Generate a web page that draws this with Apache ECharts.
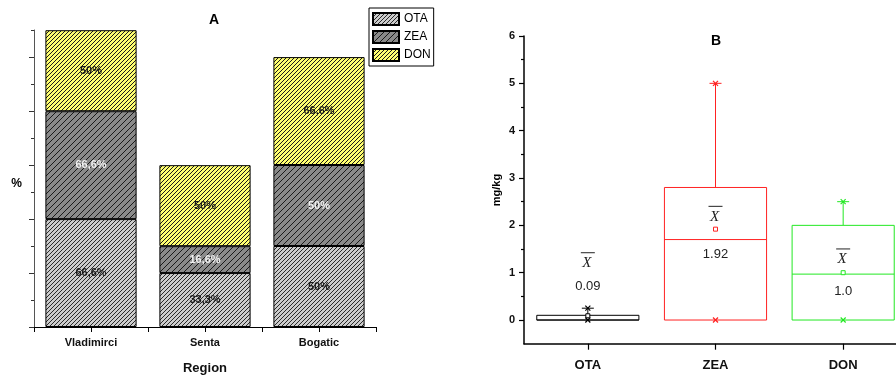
<!DOCTYPE html>
<html>
<head>
<meta charset="utf-8">
<script src="https://cdn.jsdelivr.net/npm/echarts@6/dist/echarts.min.js"></script>
<style>
  html, body { margin: 0; padding: 0; background: #fff; }
  #chart { width: 896px; height: 381px; }
</style>
</head>
<body>
<div id="chart"></div>
<script>
// Panel A: share of positive samples per region, stacked by toxin (%)
const regions = ['Vladimirci', 'Senta', 'Bogatic'];
const otaShare = [66.6, 33.3, 50];
const zeaShare = [66.6, 16.6, 50];
const donShare = [50, 50, 66.6];

// Panel B: concentration summary per toxin (mg/kg)
const toxins = ['OTA', 'ZEA', 'DON'];
const boxMin = [0, 0, 0];
const boxQ1 = [0, 0, 0];
const boxMedian = [0, 1.7, 0.97];
const boxQ3 = [0.1, 2.8, 2.0];
const boxMax = [0.25, 5, 2.5];
const boxMean = [0.09, 1.92, 1.0];

// Tick values
const shareStep = 100 / 6;
const shareMajorTicks = [0, 2, 4, 6, 8, 10].map(k => k * shareStep);
const shareMinorTicks = [1, 3, 5, 7, 9, 11].map(k => k * shareStep);
const concTicks = [0, 1, 2, 3, 4, 5, 6];
const concMinorTicks = [0.5, 1.5, 2.5, 3.5, 4.5, 5.5];

// Styling / layout
const SANS = 'Liberation Sans, Arial, sans-serif';
const SERIF = 'Liberation Serif, Times New Roman, serif';
const toxinColors = ['#000000', '#ff2222', '#22e822'];
const meanSymbolAt = [1.2, 2.18, 1.28];   // where the mean symbol sits (mg/kg units)
const meanTextAt = [0.7, 1.39, 0.6];      // where the mean value text sits

function hatch(bg, line, step) {
  const c = document.createElement('canvas');
  c.width = step; c.height = step;
  const g = c.getContext('2d');
  g.fillStyle = bg;
  g.fillRect(0, 0, step, step);
  g.strokeStyle = line;
  g.lineWidth = 1;
  g.beginPath();
  g.moveTo(-1, step + 1); g.lineTo(step + 1, -1);
  g.moveTo(-1, 1); g.lineTo(1, -1);
  g.moveTo(step - 1, step + 1); g.lineTo(step + 1, step - 1);
  g.stroke();
  return { image: c, repeat: 'repeat' };
}

function pctText(v) {
  return Number.isInteger(v) ? v + '%' : v.toFixed(1).replace('.', ',') + '%';
}

function meanText(v) {
  return Number.isInteger(v) ? v.toFixed(1) : String(v);
}

const boxData = toxins.map((t, i) => [i, boxMin[i], boxQ1[i], boxMedian[i], boxQ3[i], boxMax[i], boxMean[i]]);

function renderBox(params, api) {
  const i = api.value(0);
  const color = toxinColors[i];
  const band = api.size([1, 0])[0];
  const half = band * 0.4;
  const cx = api.coord([i, 0])[0];
  const y = v => api.coord([i, v])[1];
  const yMin = y(api.value(1)), yQ1 = y(api.value(2)), yMed = y(api.value(3));
  const yQ3 = y(api.value(4)), yMax = y(api.value(5)), yMean = y(api.value(6));
  const lineStyle = { stroke: color, lineWidth: 1, fill: null };
  const cross = (yy) => ({
    type: 'group',
    children: [
      { type: 'line', shape: { x1: cx - 2.5, y1: yy - 2.5, x2: cx + 2.5, y2: yy + 2.5 }, style: { stroke: color, lineWidth: 1.2 } },
      { type: 'line', shape: { x1: cx - 2.5, y1: yy + 2.5, x2: cx + 2.5, y2: yy - 2.5 }, style: { stroke: color, lineWidth: 1.2 } }
    ]
  });
  const ySym = y(meanSymbolAt[i]);
  const yTxt = y(meanTextAt[i]);
  return {
    type: 'group',
    children: [
      { type: 'line', shape: { x1: cx, y1: yQ3, x2: cx, y2: yMax }, style: lineStyle },
      { type: 'line', shape: { x1: cx, y1: yQ1, x2: cx, y2: yMin }, style: lineStyle },
      { type: 'rect', shape: { x: cx - half, y: yQ3, width: half * 2, height: yQ1 - yQ3 }, style: { stroke: color, lineWidth: 1, fill: '#fff' } },
      { type: 'line', shape: { x1: cx - half, y1: yMed, x2: cx + half, y2: yMed }, style: lineStyle },
      { type: 'line', shape: { x1: cx - 6, y1: yMax, x2: cx + 6, y2: yMax }, style: lineStyle },
      cross(yMax),
      cross(yMin),
      { type: 'rect', shape: { x: cx - 2, y: yMean - 2, width: 4, height: 4 }, style: { stroke: color, lineWidth: 1, fill: '#fff' } },
      { type: 'text', x: cx - 1, y: ySym, style: { text: 'X', font: 'italic 15px ' + SERIF, fill: '#222', align: 'center', verticalAlign: 'middle' } },
      { type: 'line', shape: { x1: cx - 7, y1: ySym - 10.5, x2: cx + 7, y2: ySym - 10.5 }, style: { stroke: '#222', lineWidth: 1 } },
      { type: 'text', x: cx, y: yTxt, style: { text: meanText(api.value(6)), font: '13px ' + SANS, fill: '#222', align: 'center', verticalAlign: 'middle' } }
    ]
  };
}

const barLabel = (color) => ({
  show: true, position: 'inside', formatter: p => pctText(p.value),
  color: color, fontFamily: SANS, fontWeight: 'bold', fontSize: 11, textBorderWidth: 0
});

const option = {
  animation: false,
  backgroundColor: '#fff',
  grid: [
    { left: 34, top: 30, right: 520, bottom: 54, outerBoundsMode: 'none' },
    { left: 524, top: 36, width: 383, bottom: 37.3, outerBoundsMode: 'none' }
  ],
  legend: {
    data: ['OTA', 'ZEA', 'DON'],
    orient: 'vertical',
    left: 369, top: 8,
    itemWidth: 26, itemHeight: 12, itemGap: 4,
    padding: [4, 3, 4, 3],
    borderColor: '#000', borderWidth: 1, backgroundColor: '#fff',
    icon: 'rect',
    textStyle: { fontFamily: SANS, fontSize: 12, color: '#000', lineHeight: 14 }
  },
  xAxis: [
    {
      type: 'category', gridIndex: 0, data: regions, position: 'bottom',
      axisLine: { lineStyle: { color: '#000', width: 1 } },
      axisTick: { show: true, length: 5, lineStyle: { color: '#000' } },
      axisLabel: { color: '#111', fontFamily: SANS, fontWeight: 'bold', fontSize: 11, margin: 10 }
    },
    {
      type: 'category', gridIndex: 0, data: regions, position: 'bottom',
      axisLine: { show: false },
      axisTick: { show: true, alignWithLabel: true, length: 5, lineStyle: { color: '#000' } },
      axisLabel: { show: false }
    },
    {
      type: 'category', gridIndex: 1, data: toxins, position: 'bottom',
      axisLine: { onZero: false, lineStyle: { color: '#000', width: 1.5 } },
      axisTick: { show: true, alignWithLabel: true, length: 6, lineStyle: { color: '#000', width: 1.2 } },
      axisLabel: { color: '#111', fontFamily: SANS, fontWeight: 'bold', fontSize: 13, margin: 15 }
    }
  ],
  yAxis: [
    {
      type: 'value', gridIndex: 0, min: 0, max: 11 * shareStep, position: 'left',
      splitLine: { show: false },
      axisLine: { show: true, lineStyle: { color: '#555', width: 1 } },
      axisTick: { show: true, length: 5, customValues: shareMajorTicks, lineStyle: { color: '#333' } },
      axisLabel: { show: false }
    },
    {
      type: 'value', gridIndex: 0, min: 0, max: 11 * shareStep, position: 'left',
      splitLine: { show: false },
      axisLine: { show: false },
      axisTick: { show: true, length: 3, customValues: shareMinorTicks, lineStyle: { color: '#333' } },
      axisLabel: { show: false }
    },
    {
      type: 'value', gridIndex: 1, min: -0.5, max: 6, position: 'left',
      splitLine: { show: false },
      axisLine: { show: true, onZero: false, lineStyle: { color: '#000', width: 1.5 } },
      axisTick: { show: true, length: 5, customValues: concTicks, lineStyle: { color: '#000', width: 1.2 } },
      axisLabel: { customValues: concTicks, color: '#111', fontFamily: SANS, fontWeight: 'bold', fontSize: 11, margin: 9 }
    },
    {
      type: 'value', gridIndex: 1, min: -0.5, max: 6, position: 'left',
      splitLine: { show: false },
      axisLine: { show: false, onZero: false },
      axisTick: { show: true, length: 3, customValues: concMinorTicks, lineStyle: { color: '#000', width: 1.2 } },
      axisLabel: { show: false }
    }
  ],
  series: [
    {
      type: 'bar', name: 'OTA', stack: 'share', xAxisIndex: 0, yAxisIndex: 0, data: otaShare, barWidth: '80%',
      itemStyle: { color: hatch('#cccccc', '#2a2a2a', 4), borderColor: '#000', borderWidth: 1 },
      label: barLabel('#1a1a1a')
    },
    {
      type: 'bar', name: 'ZEA', stack: 'share', xAxisIndex: 0, yAxisIndex: 0, data: zeaShare, barWidth: '80%',
      itemStyle: { color: hatch('#8a8a8a', '#1a1a1a', 6), borderColor: '#000', borderWidth: 1 },
      label: barLabel('#f2f2f2')
    },
    {
      type: 'bar', name: 'DON', stack: 'share', xAxisIndex: 0, yAxisIndex: 0, data: donShare, barWidth: '80%',
      itemStyle: { color: hatch('#ffff70', '#1a1a1a', 4), borderColor: '#000', borderWidth: 1 },
      label: barLabel('#1a1a1a')
    },
    {
      type: 'custom', name: 'conc', xAxisIndex: 2, yAxisIndex: 2, data: boxData,
      renderItem: renderBox, clip: false, encode: { x: 0, y: [1, 2, 3, 4, 5, 6] }
    }
  ],
  graphic: [
    { type: 'text', x: 214, y: 20, style: { text: 'A', font: 'bold 14px ' + SANS, fill: '#000', align: 'center', verticalAlign: 'middle' } },
    { type: 'text', x: 16.5, y: 184, style: { text: '%', font: 'bold 12px ' + SANS, fill: '#000', align: 'center', verticalAlign: 'middle' } },
    { type: 'text', x: 205, y: 368, style: { text: 'Region', font: 'bold 13px ' + SANS, fill: '#111', align: 'center', verticalAlign: 'middle' } },
    { type: 'text', x: 716, y: 41, style: { text: 'B', font: 'bold 14px ' + SANS, fill: '#000', align: 'center', verticalAlign: 'middle' } },
    { type: 'text', x: 497, y: 190, rotation: Math.PI / 2, style: { text: 'mg/kg', font: 'bold 11px ' + SANS, fill: '#000', align: 'center', verticalAlign: 'middle' } }
  ]
};

const chart = echarts.init(document.getElementById('chart'), null, { renderer: 'canvas' });
chart.setOption(option);
</script>
</body>
</html>
